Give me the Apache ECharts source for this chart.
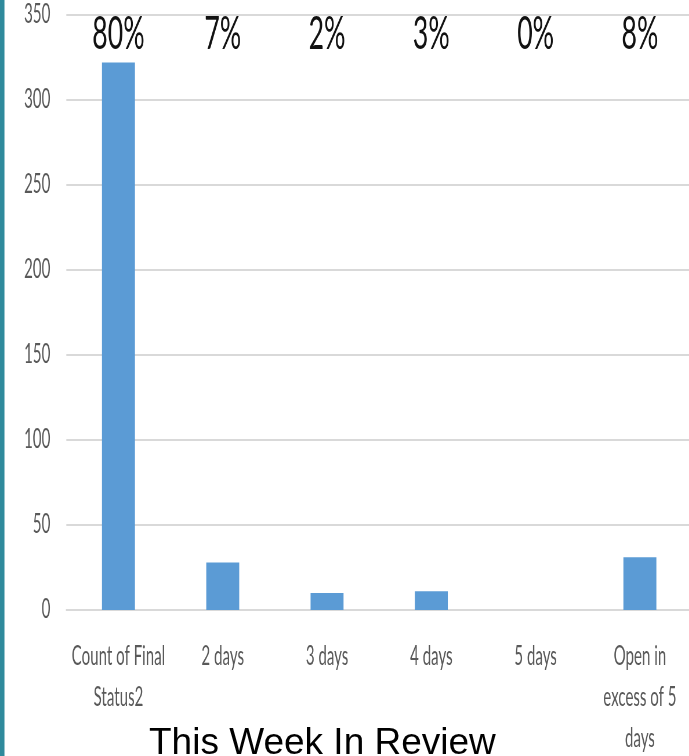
<!DOCTYPE html>
<html><head><meta charset="utf-8">
<script src="https://cdn.jsdelivr.net/npm/echarts@6/dist/echarts.min.js"></script>
<style>
html,body{margin:0;padding:0;background:#fff;overflow:hidden;}
#wrap{position:relative;width:689px;height:756px;overflow:hidden;}
#chart{position:absolute;left:0;top:0;height:756px;transform-origin:0 0;}
#overlay{position:absolute;left:0;top:0;width:689px;height:756px;pointer-events:none;}
</style></head><body>
<div id="wrap"><div id="chart"></div><div id="overlay"></div></div>
<script>
// ---- data ----
const categories = ['Count of Final\nStatus2', '2 days', '3 days', '4 days', '5 days', 'Open in\nexcess of 5\ndays'];
const counts = [322, 28, 10, 11, 0, 31];
const yMin = 0, yMax = 350, yInterval = 50;
const titleText = 'This Week In Review';

// percentages of total shown above the bars
const total = counts.reduce((a, b) => a + b, 0);
const percentLabels = counts.map(v => Math.round(v / total * 100) + '%');

// ---- layout: the chart picture is horizontally condensed ----
const S = 0.58;                 // horizontal squeeze factor
const W = 689 / S;
const chartEl = document.getElementById('chart');
chartEl.style.width = W + 'px';
chartEl.style.transform = 'scaleX(' + S + ')';

const FONT = 'Lato';
const chart = echarts.init(chartEl, null, {renderer: 'canvas'});
chart.setOption({
  animation: false,
  backgroundColor: 'transparent',
  grid: {left: 66.3 / S, right: -3 / S, top: 15, bottom: 146, containLabel: false, outerBoundsMode: 'none'},
  xAxis: [{
    type: 'category',
    data: categories,
    position: 'bottom',
    axisLine: {show: true, lineStyle: {color: '#d9d9d9', width: 2}},
    axisTick: {show: false},
    axisLabel: {
      interval: 0, color: '#595959', fontFamily: FONT, fontSize: 26,
      lineHeight: 41, margin: 26
    }
  }, {
    type: 'category',
    data: percentLabels,
    position: 'top',
    axisLine: {show: false},
    axisTick: {show: false},
    axisLabel: {
      inside: true, interval: 0, color: '#111', fontFamily: FONT, fontSize: 46,
      verticalAlign: 'middle', margin: 19
    }
  }],
  yAxis: {
    type: 'value', min: yMin, max: yMax, interval: yInterval,
    axisLine: {show: false}, axisTick: {show: false},
    axisLabel: {color: '#595959', fontFamily: FONT, fontSize: 26, margin: 27.6},
    splitLine: {lineStyle: {color: '#d9d9d9', width: 2}}
  },
  series: [{
    type: 'bar',
    data: counts,
    barWidth: '31.6%',
    itemStyle: {color: '#5b9bd5'},
    silent: true
  }]
});

// overlay: title + teal page edge (not condensed)
const ov = echarts.init(document.getElementById('overlay'), null, {renderer: 'canvas'});
ov.setOption({
  animation: false,
  backgroundColor: 'transparent',
  title: {
    text: titleText, left: 144, top: 720,
    textStyle: {fontFamily: 'Liberation Sans, Arial, sans-serif', fontSize: 37, fontWeight: 'normal', color: '#000'}
  },
  graphic: [{
    type: 'rect', left: 0, top: 0, silent: true,
    shape: {width: 4.5, height: 756},
    style: {fill: '#2f8a9c'}
  }]
});
</script>
</body></html>
